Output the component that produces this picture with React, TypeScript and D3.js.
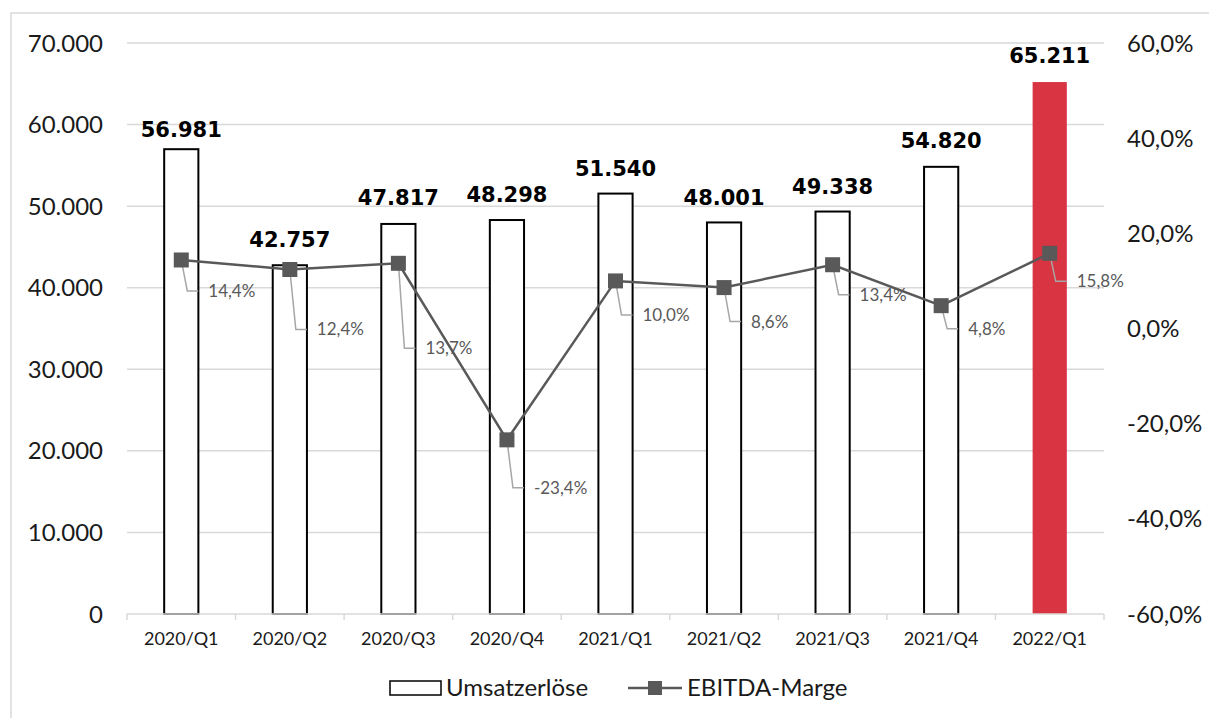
import { useEffect, useRef } from 'react';
import * as d3 from 'd3';

// quarters on the x axis
const categories = ['2020/Q1', '2020/Q2', '2020/Q3', '2020/Q4', '2021/Q1', '2021/Q2', '2021/Q3', '2021/Q4', '2022/Q1'];
// Umsatzerlöse (bars)
const revenue = [56981, 42757, 47817, 48298, 51540, 48001, 49338, 54820, 65211];
// EBITDA-Marge (line, as fraction)
const ebitdaMargin = [0.144, 0.124, 0.137, -0.234, 0.1, 0.086, 0.134, 0.048, 0.158];
const leftTicks = [0, 10000, 20000, 30000, 40000, 50000, 60000, 70000];
const rightTicks = [-0.6, -0.4, -0.2, 0, 0.2, 0.4, 0.6];
const highlighted = '2022/Q1';

// manual label placement (as in the source chart)
const barLabelGap = [12, 18, 19, 18, 18, 17, 18, 19, 19];
const lineLabelDy = [31, 60, 85, 48, 34, 34, 30, 23, 28];

const W = 1209;
const H = 718;

const de = d3.formatLocale({ decimal: ',', thousands: '.', grouping: [3], currency: ['', '€'], minus: '-' });
const fmtNum = de.format(',.0f');
const fmtPct = de.format('.1%');

const App = () => {
    const svgRef = useRef<SVGSVGElement>(null);

    useEffect(() => {
        const svg = d3.select(svgRef.current).attr('width', W).attr('height', H);
        svg.selectAll('*').remove();

        const plot = { left: 127, right: 1104, top: 43, bottom: 614 };
        const font = 'Lato, "Noto Sans", sans-serif';

        const x = d3.scaleBand().domain(categories).range([plot.left, plot.right]);
        const yL = d3.scaleLinear().domain([0, 70000]).range([plot.bottom, plot.top]);
        const yR = d3.scaleLinear().domain([-0.6, 0.6]).range([plot.bottom, plot.top]);
        const barW = x.bandwidth() * 0.315;
        const cx = (c: string) => (x(c) as number) + x.bandwidth() / 2;

        // chart border
        svg.append('rect')
            .attr('x', 11).attr('y', 13)
            .attr('width', W + 20).attr('height', H + 20)
            .attr('fill', 'none')
            .attr('stroke', '#d9d9d9')
            .attr('stroke-width', 1.5);

        // gridlines
        svg.selectAll('.grid')
            .data(leftTicks.slice(1))
            .enter()
            .append('line')
            .attr('x1', plot.left).attr('x2', plot.right)
            .attr('y1', d => yL(d)).attr('y2', d => yL(d))
            .attr('stroke', '#d9d9d9')
            .attr('stroke-width', 1.5);

        // left axis labels
        svg.selectAll('.ltick')
            .data(leftTicks)
            .enter()
            .append('text')
            .attr('x', 103)
            .attr('y', d => yL(d) + 8.5)
            .attr('text-anchor', 'end')
            .style('font-family', font)
            .style('font-size', '24px')
            .style('fill', '#1a1a1a')
            .text(d => fmtNum(d));

        // right axis labels
        svg.selectAll('.rtick')
            .data(rightTicks)
            .enter()
            .append('text')
            .attr('x', 1127)
            .attr('y', d => yR(d) + 8.5)
            .style('font-family', font)
            .style('font-size', '24px')
            .style('fill', '#1a1a1a')
            .text(d => fmtPct(d));

        // bars
        svg.selectAll('.bar')
            .data(categories)
            .enter()
            .append('rect')
            .attr('x', d => cx(d) - barW / 2)
            .attr('y', (d, i) => yL(revenue[i]))
            .attr('width', barW)
            .attr('height', (d, i) => yL(0) - yL(revenue[i]))
            .attr('fill', d => (d === highlighted ? '#d83441' : '#ffffff'))
            .attr('stroke', d => (d === highlighted ? 'none' : '#000'))
            .attr('stroke-width', 2);

        // x axis line + ticks
        svg.append('line')
            .attr('x1', plot.left).attr('x2', plot.right)
            .attr('y1', plot.bottom).attr('y2', plot.bottom)
            .attr('stroke', '#d9d9d9')
            .attr('stroke-width', 1.5);
        svg.selectAll('.xtick')
            .data(d3.range(categories.length + 1))
            .enter()
            .append('line')
            .attr('x1', i => plot.left + i * x.bandwidth())
            .attr('x2', i => plot.left + i * x.bandwidth())
            .attr('y1', plot.bottom).attr('y2', plot.bottom + 6)
            .attr('stroke', '#d9d9d9')
            .attr('stroke-width', 1.5);

        svg.selectAll('.xlabel')
            .data(categories)
            .enter()
            .append('text')
            .attr('x', d => cx(d))
            .attr('y', 645)
            .attr('text-anchor', 'middle')
            .style('font-family', font)
            .style('font-size', '18px')
            .style('fill', '#1a1a1a')
            .text(d => d);

        // bar value labels
        svg.selectAll('.barlabel')
            .data(categories)
            .enter()
            .append('text')
            .attr('x', d => cx(d))
            .attr('y', (d, i) => yL(revenue[i]) - barLabelGap[i])
            .attr('text-anchor', 'middle')
            .style('font-family', '"DejaVu Sans", sans-serif')
            .style('font-weight', 'bold')
            .style('font-size', '21px')
            .style('fill', '#000')
            .text((d, i) => fmtNum(revenue[i]));

        // leader lines for line labels
        svg.selectAll('.leader')
            .data(categories)
            .enter()
            .append('path')
            .attr('d', (d, i) => {
                const px = cx(d);
                const py = yR(ebitdaMargin[i]);
                const ly = py + lineLabelDy[i];
                return `M${px},${py}L${px + 6},${ly}L${px + 17},${ly}`;
            })
            .attr('fill', 'none')
            .attr('stroke', '#a6a6a6')
            .attr('stroke-width', 1.5);

        // EBITDA line
        const line = d3.line<string>()
            .x(d => cx(d))
            .y((d, i) => yR(ebitdaMargin[i]));
        svg.append('path')
            .datum(categories)
            .attr('d', line)
            .attr('fill', 'none')
            .attr('stroke', '#595959')
            .attr('stroke-width', 2.5);

        const mk = 15;
        svg.selectAll('.marker')
            .data(categories)
            .enter()
            .append('rect')
            .attr('x', d => cx(d) - mk / 2)
            .attr('y', (d, i) => yR(ebitdaMargin[i]) - mk / 2)
            .attr('width', mk).attr('height', mk)
            .attr('fill', '#595959');

        svg.selectAll('.linelabel')
            .data(categories)
            .enter()
            .append('text')
            .attr('x', d => cx(d) + 27)
            .attr('y', (d, i) => yR(ebitdaMargin[i]) + lineLabelDy[i] + 6)
            .style('font-family', font)
            .style('font-size', '17px')
            .style('fill', '#595959')
            .text((d, i) => fmtPct(ebitdaMargin[i]));

        // legend
        const legend = svg.append('g');
        legend.append('rect')
            .attr('x', 390).attr('y', 681)
            .attr('width', 51).attr('height', 14)
            .attr('fill', '#fff')
            .attr('stroke', '#000')
            .attr('stroke-width', 1.5);
        legend.append('text')
            .attr('x', 446).attr('y', 696)
            .style('font-family', font)
            .style('font-size', '24px')
            .style('fill', '#1a1a1a')
            .text('Umsatzerlöse');
        legend.append('line')
            .attr('x1', 628).attr('x2', 682)
            .attr('y1', 688).attr('y2', 688)
            .attr('stroke', '#595959')
            .attr('stroke-width', 2.5);
        legend.append('rect')
            .attr('x', 648).attr('y', 681)
            .attr('width', 14).attr('height', 14)
            .attr('fill', '#595959');
        legend.append('text')
            .attr('x', 687).attr('y', 696)
            .style('font-family', font)
            .style('font-size', '24px')
            .style('fill', '#1a1a1a')
            .text('EBITDA-Marge');
    }, []);

    return (
        <div style={{ position: 'absolute', left: 0, top: 0 }}>
            <svg ref={svgRef} style={{ display: 'block', background: '#fff' }} />
        </div>
    );
};

export default App;
